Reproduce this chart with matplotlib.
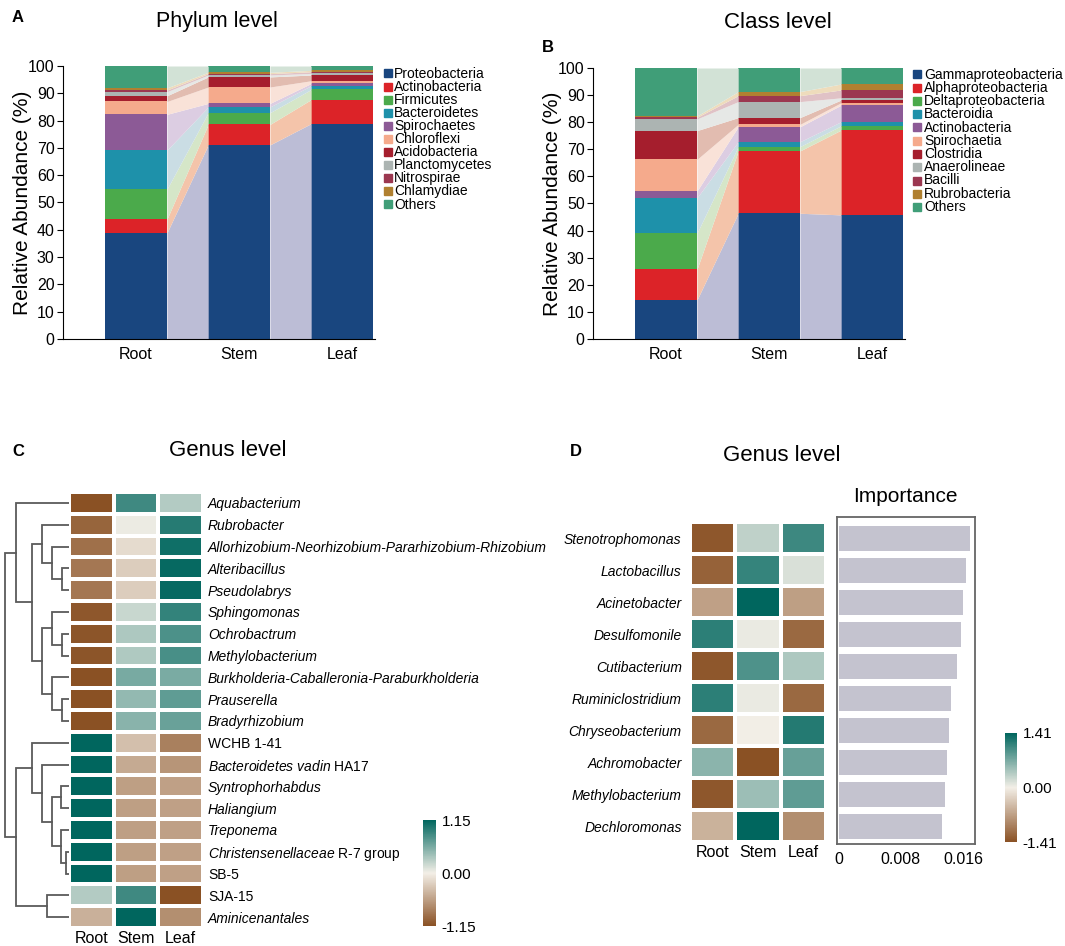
import numpy as np
import matplotlib
matplotlib.use("Agg")
import matplotlib.pyplot as plt
from matplotlib.colors import LinearSegmentedColormap
from matplotlib.patches import Rectangle

plt.rcParams['font.family'] = ['Liberation Sans', 'DejaVu Sans']
plt.rcParams['mathtext.fontset'] = 'custom'
plt.rcParams['mathtext.it'] = 'Liberation Sans:italic'
plt.rcParams['mathtext.rm'] = 'Liberation Sans'

# ---------------- data ----------------
samples = ['Root', 'Stem', 'Leaf']

phylum_names = ['Proteobacteria', 'Actinobacteria', 'Firmicutes', 'Bacteroidetes',
                'Spirochaetes', 'Chloroflexi', 'Acidobacteria', 'Planctomycetes',
                'Nitrospirae', 'Chlamydiae', 'Others']
phylum_root = [38.9, 5.0, 11.0, 14.3, 13.1, 4.7, 2.1, 1.5, 0.6, 0.8, 8.0]
phylum_stem = [71.1, 7.5, 4.3, 2.1, 1.3, 6.0, 3.7, 0.7, 0.5, 0.5, 2.3]
phylum_leaf = [78.9, 8.8, 3.7, 1.4, 0.8, 1.0, 2.1, 0.6, 0.6, 0.5, 1.6]

class_names = ['Gammaproteobacteria', 'Alphaproteobacteria', 'Deltaproteobacteria',
               'Bacteroidia', 'Actinobacteria', 'Spirochaetia', 'Clostridia',
               'Anaerolineae', 'Bacilli', 'Rubrobacteria', 'Others']
class_root = [14.4, 11.3, 13.3, 13.1, 2.5, 11.7, 10.6, 4.3, 0.6, 0.5, 17.7]
class_stem = [46.4, 23.0, 1.6, 1.8, 5.5, 0.9, 2.5, 5.9, 2.2, 1.5, 8.7]
class_leaf = [45.8, 31.3, 1.6, 1.5, 6.1, 0.9, 1.0, 0.8, 2.9, 2.2, 5.9]

genus_c = ['Aquabacterium', 'Rubrobacter',
           'Allorhizobium-Neorhizobium-Pararhizobium-Rhizobium', 'Alteribacillus',
           'Pseudolabrys', 'Sphingomonas', 'Ochrobactrum', 'Methylobacterium',
           'Burkholderia-Caballeronia-Paraburkholderia', 'Prauserella',
           'Bradyrhizobium', 'WCHB 1-41', r'$\mathit{Bacteroidetes\ vadin}$ HA17',
           'Syntrophorhabdus', 'Haliangium', 'Treponema',
           r'$\mathit{Christensenellaceae}$ R-7 group', 'SB-5', 'SJA-15',
           'Aminicenantales']
italic_c = [True] * 11 + [False, False, True, True, True, False, False, False, True]
zscore_c = [
    [-1.15, 0.85, 0.30], [-1.00, 0.03, 0.97], [-0.92, -0.15, 1.07],
    [-0.87, -0.25, 1.12], [-0.87, -0.25, 1.12], [-1.10, 0.20, 0.90],
    [-1.12, 0.33, 0.79], [-1.12, 0.32, 0.80], [-1.15, 0.58, 0.57],
    [-1.15, 0.45, 0.70], [-1.15, 0.50, 0.65], [1.15, -0.35, -0.80],
    [1.15, -0.50, -0.65], [1.15, -0.58, -0.57], [1.15, -0.58, -0.57],
    [1.15, -0.58, -0.57], [1.15, -0.58, -0.57], [1.15, -0.58, -0.57],
    [0.30, 0.85, -1.15], [-0.45, 1.15, -0.70]]
# dendrogram: (left, right, merge height), leaves = row index
tree_c = (
    (0, ((1, (2, (3, 4, 22), 52), 82),
         ((5, (6, 7, 22), 52), (8, (9, 10, 22), 52), 82), 110), 160),
    ((11, (12, ((13, 14, 25), (15, (16, 17, 10), 25), 52), 82), 110),
     (18, 19, 67), 160),
    192)

genus_d = ['Stenotrophomonas', 'Lactobacillus', 'Acinetobacter', 'Desulfomonile',
           'Cutibacterium', 'Ruminiclostridium', 'Chryseobacterium',
           'Achromobacter', 'Methylobacterium', 'Dechloromonas']
zscore_d = [
    [-1.35, 0.30, 1.05], [-1.25, 1.10, 0.15], [-0.70, 1.41, -0.71],
    [1.15, 0.05, -1.20], [-1.35, 0.95, 0.40], [1.15, 0.05, -1.20],
    [-1.20, 0.00, 1.20], [0.60, -1.41, 0.81], [-1.35, 0.50, 0.85],
    [-0.55, 1.41, -0.86]]
importance_d = [0.0169, 0.0163, 0.0160, 0.0157, 0.0152, 0.0144, 0.0142,
                0.0139, 0.0136, 0.0133]

# ---------------- styles ----------------
seg_colors = ['#19467f', '#dc2328', '#4baa4b', '#1e91aa', '#8c5a96', '#f5aa8c',
              '#a51e2d', '#acb4b2', '#9b3750', '#b08030', '#409e78']
band_colors = ['#bcbdd6', '#f4c4aa', '#d5e6c8', '#cadde4', '#dccde2', '#f9e2d8',
               '#e2bcb0', '#e6e8e6', '#e0c2c6', '#eedcbc', '#d2e2d6']
cmap = LinearSegmentedColormap.from_list('bt', ['#8a5124', '#f3efe7', '#00665e'])

W, H = 1065, 946
fig = plt.figure(figsize=(W / 100, H / 100), dpi=100)


def box(l, t, r, b):
    return [l / W, 1 - b / H, (r - l) / W, (b - t) / H]


def alluvial(ax, cols):
    table = np.array(cols).T          # taxa x samples
    x = np.arange(table.shape[1])
    bottoms = np.vstack([np.zeros(len(x)), np.cumsum(table, axis=0)[:-1]])
    for k, row in enumerate(table):
        ax.bar(x, row, width=0.6, bottom=bottoms[k], color=seg_colors[k], linewidth=0)
        for i in range(len(x) - 1):
            ax.fill_between([i + 0.3, i + 0.7], [bottoms[k, i], bottoms[k, i + 1]],
                            [bottoms[k, i] + row[i], bottoms[k, i + 1] + row[i + 1]],
                            color=band_colors[k], linewidth=0)
    ax.set_xlim(-0.71, 2.32)
    ax.set_ylim(0, 100)
    ax.set_yticks(range(0, 101, 10))
    ax.set_xticks(x, samples)
    ax.tick_params(axis='x', length=0, labelsize=11.5, pad=6)
    ax.tick_params(axis='y', length=4, labelsize=11.5, pad=2)
    for s in ['top', 'right']:
        ax.spines[s].set_visible(False)
    ax.set_ylabel('Relative Abundance (%)', fontsize=15, labelpad=-3)


def legend(names, sq_x, txt_x, y0, step):
    for k, name in enumerate(names):
        y = y0 + k * step
        fig.patches.append(Rectangle((sq_x / W, 1 - (y + 4) / H), 8 / W, 8 / H,
                                     color=seg_colors[k], transform=fig.transFigure))
        fig.text(txt_x / W, 1 - y / H, name, fontsize=10, va='center', ha='left')


# ---- A ----
axA = fig.add_axes(box(63, 66, 375, 339))
alluvial(axA, [phylum_root, phylum_stem, phylum_leaf])
legend(phylum_names, 384, 394, 73.5, 13.1)
fig.text(217 / W, 1 - 22 / H, 'Phylum level', fontsize=15.5, ha='center', va='center')
fig.text(18 / W, 1 - 18 / H, 'A', fontsize=12, weight='bold', ha='center', va='center')

# ---- B ----
axB = fig.add_axes(box(593, 68, 905, 339))
alluvial(axB, [class_root, class_stem, class_leaf])
legend(class_names, 913, 924, 74.5, 13.25)
fig.text(778 / W, 1 - 22 / H, 'Class level', fontsize=16, ha='center', va='center')
fig.text(548 / W, 1 - 47 / H, 'B', fontsize=12, weight='bold', ha='center', va='center')

# ---- C ----
axC = fig.add_axes(box(69, 492, 203, 928))
meshC = axC.pcolormesh(np.array(zscore_c), cmap=cmap, vmin=-1.15, vmax=1.15,
                       edgecolors='white', linewidth=1.5)
axC.set_xlim(0, 3)
axC.set_ylim(len(genus_c), 0)
axC.set_xticks(np.arange(3) + 0.5, samples)
axC.set_yticks(np.arange(len(genus_c)) + 0.5, genus_c)
axC.yaxis.tick_right()
axC.tick_params(length=0, labelsize=10)
axC.tick_params(axis='x', labelsize=11.5, pad=2)
for lab, it in zip(axC.get_yticklabels(), italic_c):
    if it:
        lab.set_fontstyle('italic')
for s in axC.spines.values():
    s.set_visible(False)

axT = fig.add_axes(box(3, 492, 69, 928))


def draw_tree(node):
    if isinstance(node, int):
        return node + 0.5, 0
    left, right, h = node
    yl, hl = draw_tree(left)
    yr, hr = draw_tree(right)
    axT.plot([hl, h, h, hr], [yl, yl, yr, yr], color='#5a5a5a', lw=1.3,
             solid_joinstyle='miter')
    return (yl + yr) / 2, h


draw_tree(tree_c)
axT.set_xlim(198, 0)
axT.set_ylim(len(genus_c), 0)
axT.axis('off')

caxC = fig.add_axes(box(423, 820, 436, 926))
cbC = fig.colorbar(meshC, cax=caxC, ticks=[-1.15, 0, 1.15])
cbC.set_ticklabels(['-1.15', '0.00', '1.15'])
cbC.outline.set_visible(False)
caxC.tick_params(length=0, labelsize=11, pad=4)

fig.text(228 / W, 1 - 451 / H, 'Genus level', fontsize=16, ha='center', va='center')
fig.text(18 / W, 1 - 451 / H, 'C', fontsize=12, weight='bold', ha='center', va='center')

# ---- D ----
axD = fig.add_axes(box(690, 522, 826, 842))
meshD = axD.pcolormesh(np.array(zscore_d), cmap=cmap, vmin=-1.41, vmax=1.41,
                       edgecolors='white', linewidth=1.5)
axD.set_xlim(0, 3)
axD.set_ylim(len(genus_d), 0)
axD.set_xticks(np.arange(3) + 0.5, samples)
axD.set_yticks(np.arange(len(genus_d)) + 0.5, genus_d, fontstyle='italic')
axD.tick_params(length=0, labelsize=10, pad=6)
axD.tick_params(axis='x', labelsize=11.5, pad=2)
for s in axD.spines.values():
    s.set_visible(False)

axI = fig.add_axes(box(837, 517, 975, 844))
axI.barh(np.arange(len(importance_d)), importance_d, height=0.78, color='#c4c3cf')
axI.set_ylim(9.56, -0.66)
axI.set_xlim(-0.0002, 0.0175)
axI.set_yticks([])
axI.set_xticks([0, 0.008, 0.016], ['0', '0.008', '0.016'])
axI.tick_params(length=0, labelsize=11.5, pad=6)
for s in axI.spines.values():
    s.set_color('#666666')
    s.set_linewidth(1.3)

caxD = fig.add_axes(box(1005, 733, 1017, 842))
cbD = fig.colorbar(meshD, cax=caxD, ticks=[-1.41, 0, 1.41])
cbD.set_ticklabels(['-1.41', '0.00', '1.41'])
cbD.outline.set_visible(False)
caxD.tick_params(length=0, labelsize=11, pad=4)

fig.text(905 / W, 1 - 497 / H, 'Importance', fontsize=15, ha='center', va='center')
fig.text(782 / W, 1 - 455 / H, 'Genus level', fontsize=16, ha='center', va='center')
fig.text(576 / W, 1 - 451 / H, 'D', fontsize=12, weight='bold', ha='center', va='center')

fig.savefig('out.png', dpi=100)
